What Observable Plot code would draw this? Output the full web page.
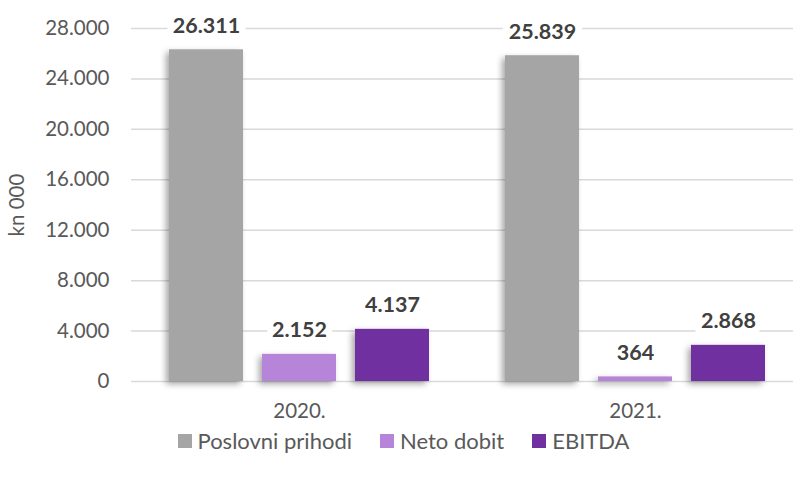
<!DOCTYPE html>
<html>
<head>
<meta charset="utf-8">
<script src="https://cdn.jsdelivr.net/npm/d3@7"></script>
<script src="https://cdn.jsdelivr.net/npm/@observablehq/plot@0.6"></script>
<style>
  html, body { margin: 0; padding: 0; background: #fff; overflow: hidden; }
  body { width: 793px; height: 478px; font-family: Lato, "Open Sans", sans-serif; }
  #legend { height: 48px; display: flex; justify-content: center; align-items: flex-start; padding-top: 0px; box-sizing: border-box; padding-left: 14px; font-size: 22px; line-height: 22px; color: #595959; font-family: Lato, sans-serif; }
  #legend .item { display: flex; align-items: center; margin: 0 14px; }
  #legend .sw { width: 14px; height: 14px; margin-right: 6px; }
</style>
</head>
<body>
<div id="chart"></div>
<div id="legend"></div>
<script>
const years = ["2020.", "2021."];
const series = ["Poslovni prihodi", "Neto dobit", "EBITDA"];
const colors = ["#a5a5a5", "#b685da", "#7030a0"];
const poslovniPrihodi = [26311, 25839];
const netoDobit = [2152, 364];
const ebitda = [4137, 2868];
const yTicks = [0, 4000, 8000, 12000, 16000, 20000, 24000, 28000];

const valuesBySeries = [poslovniPrihodi, netoDobit, ebitda];
const data = [];
years.forEach((yr, i) => {
  series.forEach((s, j) => data.push({year: yr, series: s, value: valuesBySeries[j][i]}));
});

const hr = d3.formatLocale({decimal: ",", thousands: ".", grouping: [3], currency: ["", ""]});
const fmt = hr.format(",d");

const chart = Plot.plot({
  width: 793,
  height: 430,
  marginTop: 28,
  marginBottom: 49,
  marginLeft: 130,
  marginRight: 0,
  style: {fontFamily: "Lato, sans-serif", fontSize: "20.5px", color: "#595959", background: "white"},
  fx: {domain: years, range: [130, 803], paddingInner: 0, paddingOuter: 0, label: null},
  x: {domain: series, paddingInner: 0.202, paddingOuter: 0.39, axis: null},
  y: {domain: [0, 28000], axis: null},
  color: {domain: series, range: colors},
  marks: [
    Plot.ruleY(yTicks, {y: d => d, stroke: "#d9d9d9", strokeWidth: 1.5}),
    Plot.axisFx({anchor: "bottom", tickSize: 0, tickPadding: 22, fontSize: 20.5, label: null, fill: "#595959"}),
    Plot.axisY({ticks: yTicks, tickFormat: fmt, tickSize: 0, tickPadding: 22, fontSize: 20.5, label: "kn 000", labelAnchor: "center", labelArrow: "none", labelOffset: 122}),
    Plot.barY(data, {fx: "year", x: "series", y: "value", fill: "series", imageFilter: "drop-shadow(-3px 3px 3px rgba(0,0,0,0.35))"}),
    Plot.text(data, {fx: "year", x: "series", y: "value", text: d => fmt(d.value), dy: -24, fill: "#404040", stroke: "white", strokeWidth: 14, fontWeight: "bold", fontSize: 21.5})
  ]
});
document.getElementById("chart").appendChild(chart);

const legend = document.getElementById("legend");
series.forEach((s, i) => {
  const it = document.createElement("div");
  it.className = "item";
  const sw = document.createElement("span");
  sw.className = "sw";
  sw.style.background = colors[i];
  const t = document.createElement("span");
  t.textContent = s;
  it.appendChild(sw); it.appendChild(t);
  legend.appendChild(it);
});
</script>
</body>
</html>
